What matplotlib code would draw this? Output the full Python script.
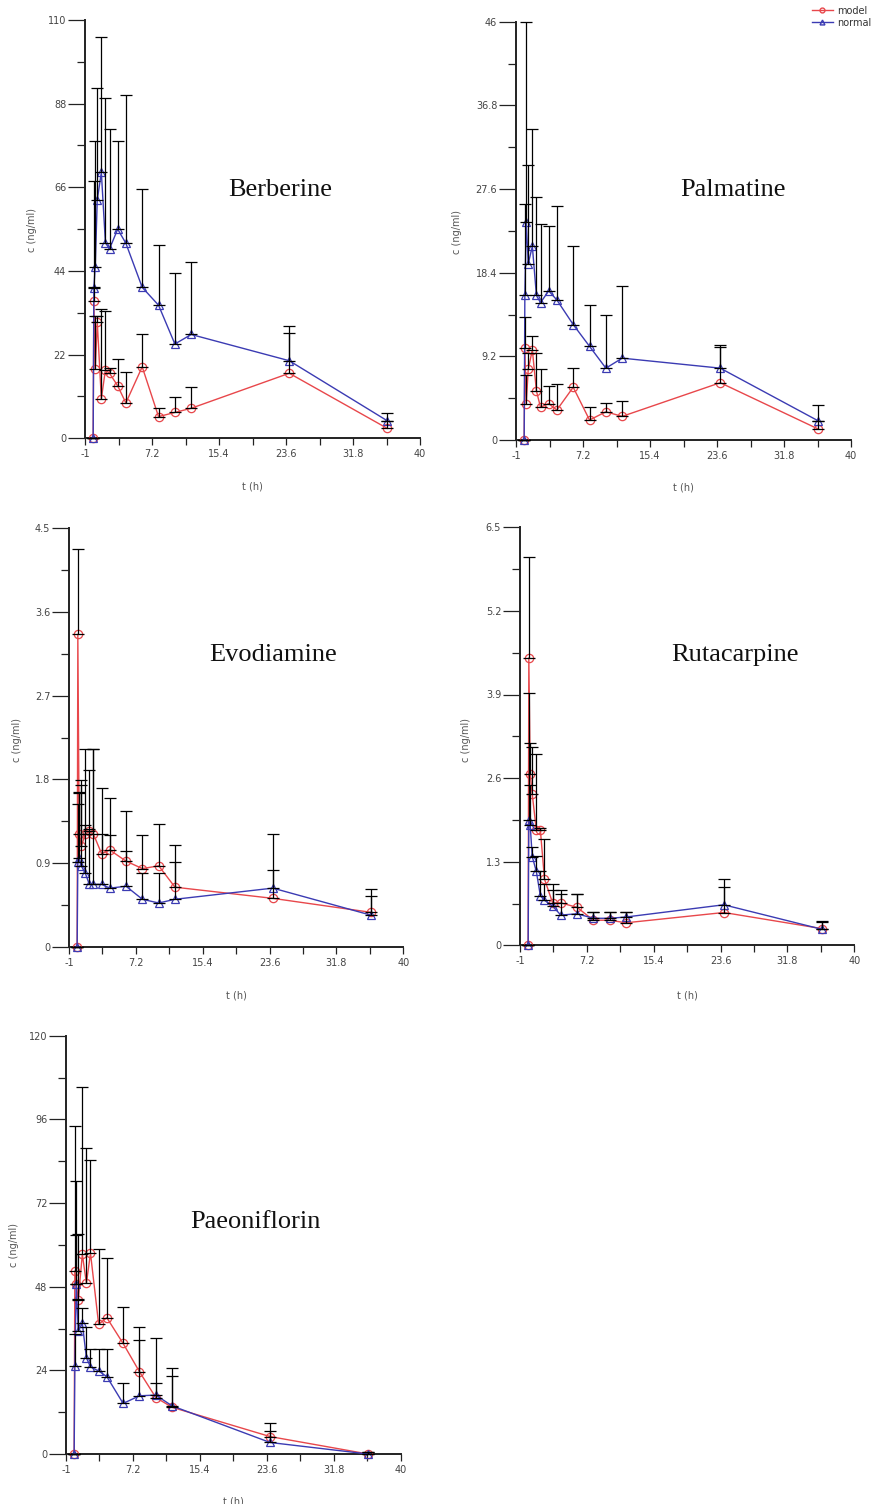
import numpy as np
import matplotlib
matplotlib.use('Agg')
import matplotlib.pyplot as plt
from matplotlib.lines import Line2D

# sampling times (h)
times = [0, 0.083, 0.25, 0.5, 1, 1.5, 2, 3, 4, 6, 8, 10, 12, 24, 36]

# Berberine
ber_model = [0, 36.2, 18.1, 30.6, 10.4, 18.0, 17.1, 13.8, 9.3, 18.8, 5.7, 6.8, 7.9, 17.1, 2.6]
ber_model_sd = [0, 3.5, 14.0, 1.6, 23.7, 15.5, 1.5, 7.0, 8.2, 8.6, 2.2, 4.0, 5.5, 10.5, 2.0]
ber_normal = [0, 39.6, 45.0, 62.7, 69.9, 51.4, 49.8, 55.0, 51.3, 39.7, 35.0, 24.8, 27.3, 20.4, 4.6]
ber_normal_sd = [0, 28.1, 33.3, 29.3, 35.5, 38.2, 31.6, 23.2, 38.9, 25.8, 15.9, 18.8, 19.1, 9.0, 2.1]

# Palmatine
pal_model = [0, 10.1, 4.0, 7.8, 9.9, 5.4, 3.6, 4.0, 3.3, 5.8, 2.2, 3.1, 2.6, 6.3, 1.2]
pal_model_sd = [0, 3.4, 3.1, 1.8, 1.5, 4.2, 4.2, 1.9, 2.9, 2.1, 1.4, 1.0, 1.7, 3.9, 0.9]
pal_normal = [0, 15.9, 24.0, 19.4, 21.3, 15.9, 15.1, 16.4, 15.4, 12.7, 10.3, 7.9, 9.0, 7.9, 2.1]
pal_normal_sd = [0, 10.0, 22.0, 10.8, 12.9, 10.8, 8.7, 7.1, 10.3, 8.6, 4.5, 5.8, 7.9, 2.5, 1.8]

# Evodiamine
evo_model = [0, 3.36, 1.21, 1.08, 1.21, 1.24, 1.21, 1.0, 1.04, 0.92, 0.84, 0.87, 0.64, 0.52, 0.37]
evo_model_sd = [0, 0.92, 0.45, 0.66, 0.92, 0.66, 0.92, 0.71, 0.56, 0.54, 0.36, 0.45, 0.45, 0.69, 0.25]
evo_normal = [0, 0.91, 0.95, 0.87, 0.79, 0.67, 0.67, 0.67, 0.63, 0.65, 0.51, 0.47, 0.51, 0.63, 0.34]
evo_normal_sd = [0, 0.62, 0.7, 0.92, 0.52, 0.6, 1.46, 0.54, 0.57, 0.38, 0.28, 0.32, 0.4, 0.19, 0.2]

# Rutacarpine
rut_model = [0, 4.47, 2.67, 2.35, 1.80, 1.79, 1.03, 0.66, 0.66, 0.59, 0.39, 0.39, 0.35, 0.51, 0.26]
rut_model_sd = [0, 1.57, 0.47, 0.74, 1.17, 0.03, 0.63, 0.3, 0.2, 0.2, 0.13, 0.13, 0.17, 0.4, 0.12]
rut_normal = [0, 1.95, 1.87, 1.38, 1.15, 0.77, 0.70, 0.61, 0.47, 0.49, 0.42, 0.42, 0.44, 0.63, 0.25]
rut_normal_sd = [0, 1.97, 0.62, 0.15, 0.24, 0.38, 0.26, 0.25, 0.32, 0.3, 0.1, 0.1, 0.08, 0.4, 0.11]

# Paeoniflorin
pae_model = [0, 52.5, 48.8, 44.2, 57.3, 49.0, 57.6, 37.2, 39.1, 31.7, 23.6, 16.2, 13.4, 5.0, 0]
pae_model_sd = [0, 41.6, 29.5, 18.8, 48.0, 38.7, 26.7, 21.6, 17.0, 10.6, 12.9, 17.0, 11.4, 3.8, 0.5]
pae_normal = [0, 25.2, 48.9, 35.3, 37.5, 27.6, 25.0, 23.8, 22.2, 14.5, 16.7, 16.9, 13.8, 3.3, 0]
pae_normal_sd = [0, 9.1, 14.0, 9.3, 4.4, 8.7, 5.0, 6.2, 7.8, 5.8, 16.0, 3.6, 8.6, 3.4, 0.5]

W, H = 877, 1504
fig = plt.figure(figsize=(W / 100, H / 100), dpi=100)

red = '#e8474b'
blue = '#3b3bb3'

# name, ymax, data, axes box in px (left, right, top, bottom), title centre px, ylabel px, xlabel px
panels = [
    ('Berberine', 110, ber_model, ber_model_sd, ber_normal, ber_normal_sd,
     (85, 420, 20, 438.3), (280, 190), (37, 230), (252, 482)),
    ('Palmatine', 46, pal_model, pal_model_sd, pal_normal, pal_normal_sd,
     (516, 851, 21.7, 440), (733, 190), (462, 232), (683, 483)),
    ('Evodiamine', 4.5, evo_model, evo_model_sd, evo_normal, evo_normal_sd,
     (69, 403.3, 528.3, 946.7), (273, 655), (22, 740), (236, 990)),
    ('Rutacarpine', 6.5, rut_model, rut_model_sd, rut_normal, rut_normal_sd,
     (520, 854.3, 527.3, 945.3), (735, 655), (471, 740), (687, 990)),
    ('Paeoniflorin', 120, pae_model, pae_model_sd, pae_normal, pae_normal_sd,
     (66, 400.7, 1035.7, 1454), (255, 1222), (19, 1245), (233, 1497)),
]

for name, ymax, m, msd, n, nsd, box, tpos, ylpos, xlpos in panels:
    l, r, t, b = box
    ax = fig.add_axes([l / W, 1 - b / H, (r - l) / W, (b - t) / H])

    ax.plot(times, m, '-', color=red, lw=1.0, marker='o', ms=6, mfc='none',
            mec=red, mew=0.9, clip_on=False, zorder=3)
    ax.plot(times, n, '-', color=blue, lw=1.0, marker='^', ms=6, mfc='none',
            mec=blue, mew=0.9, clip_on=False, zorder=3)

    z = np.zeros(len(times))
    ax.errorbar(times, m, yerr=[z, msd], fmt='none', ecolor='black',
                elinewidth=0.9, capsize=4.3, capthick=0.9, zorder=4, clip_on=False)
    ax.errorbar(times, n, yerr=[z, nsd], fmt='none', ecolor='black',
                elinewidth=0.9, capsize=4.3, capthick=0.9, zorder=4, clip_on=False)

    ax.set_xlim(-1, 40)
    ax.set_ylim(0, ymax)
    xt = np.linspace(-1, 40, 6)
    yt = np.linspace(0, ymax, 6)
    ax.set_xticks(xt)
    ax.set_xticks((xt[:-1] + xt[1:]) / 2, minor=True)
    ax.set_yticks(yt)
    ax.set_yticks((yt[:-1] + yt[1:]) / 2, minor=True)
    ax.set_xticklabels(['%g' % v for v in xt])
    ax.set_yticklabels(['%g' % round(v, 2) for v in yt])

    for s in ['top', 'right']:
        ax.spines[s].set_visible(False)
    for s in ['left', 'bottom']:
        ax.spines[s].set_linewidth(1.4)
        ax.spines[s].set_color('#222222')

    ax.tick_params(axis='x', which='both', direction='out', length=5, width=0.9,
                   color='#222222', labelsize=7, labelcolor='#444444', pad=3)
    ax.tick_params(axis='y', which='major', direction='out', length=12, width=0.9,
                   color='#222222', labelsize=7, labelcolor='#444444', pad=1.5)
    ax.tick_params(axis='y', which='minor', direction='out', length=6, width=0.9,
                   color='#222222')

    ax.set_ylabel('c (ng/ml)', fontsize=7, color='#555555')
    ax.yaxis.set_label_coords((ylpos[0] - l) / (r - l), (b - ylpos[1]) / (b - t))
    ax.set_xlabel('t (h)', fontsize=7, color='#555555')
    ax.xaxis.set_label_coords((xlpos[0] - l) / (r - l), (b - xlpos[1]) / (b - t))

    fig.text(tpos[0] / W, 1 - tpos[1] / H, name, ha='center', va='center',
             fontsize=19, family='Liberation Serif', color='#111111')

handles = [Line2D([], [], color=red, lw=1, marker='o', ms=3.5, mfc='none', mec=red),
           Line2D([], [], color=blue, lw=1, marker='^', ms=3.5, mfc='none', mec=blue)]
fig.legend(handles, ['model', 'normal'], loc='upper right', bbox_to_anchor=(1.0, 1.0),
           frameon=False, fontsize=7, handlelength=2.2, handletextpad=0.4,
           labelspacing=0.2, borderaxespad=0.2, labelcolor='#333333')

fig.savefig('out.png', dpi=100)
